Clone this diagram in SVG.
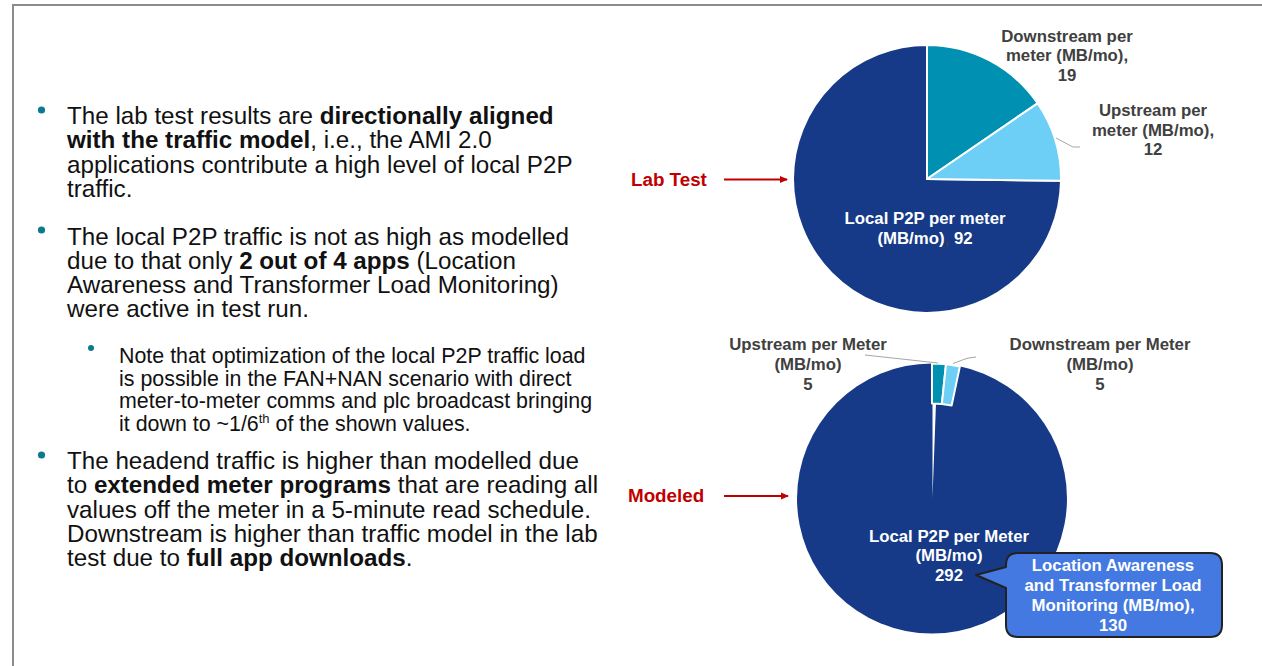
<svg xmlns="http://www.w3.org/2000/svg" width="1262" height="666" viewBox="0 0 1262 666">
<style>
.body{font-family:"Liberation Sans",Arial,sans-serif;font-size:24.2px;fill:#111}
.sub{font-family:"Liberation Sans",Arial,sans-serif;font-size:21.4px;fill:#111}
.b{font-weight:bold}
.lbl{font-family:"Liberation Sans",Arial,sans-serif;font-size:16.8px;font-weight:bold;fill:#404040;text-anchor:middle}
.wl{font-family:"Liberation Sans",Arial,sans-serif;font-size:16.8px;font-weight:bold;fill:#ffffff;text-anchor:middle}
.red{font-family:"Liberation Sans",Arial,sans-serif;font-size:18.8px;font-weight:bold;fill:#C00000}
.dot{fill:#0B7A8F}
.slice{stroke:#ffffff;stroke-width:2;stroke-linejoin:round}
.lead{fill:none;stroke:#A6A6A6;stroke-width:1}
.arr{stroke:#C00000;stroke-width:2;fill:none}
</style>
<defs>
<marker id="ah" markerWidth="8" markerHeight="8" refX="7" refY="4" orient="auto" markerUnits="userSpaceOnUse">
<path d="M0,0.5 L8,4 L0,7.5 Z" fill="#C00000"/>
</marker>
</defs>
<rect width="1262" height="666" fill="#ffffff"/>
<g id="frame">
<path d="M13,666 L13,5 L1262,5" fill="none" stroke="#8C8C8C" stroke-width="2"/>
</g>
<g id="bullets">
<circle class="dot" cx="41.5" cy="110" r="3.6"/>
<text class="body"><tspan x="67" y="124">The lab test results are <tspan class="b">directionally aligned</tspan></tspan><tspan x="67" y="148.3"><tspan class="b">with the traffic model</tspan>, i.e., the AMI 2.0</tspan><tspan x="67" y="172.6">applications contribute a high level of local P2P</tspan><tspan x="67" y="197">traffic.</tspan></text>
<circle class="dot" cx="41.5" cy="230" r="3.6"/>
<text class="body"><tspan x="67" y="244.5">The local P2P traffic is not as high as modelled</tspan><tspan x="67" y="268.8">due to that only <tspan class="b">2 out of 4 apps</tspan> (Location</tspan><tspan x="67" y="293">Awareness and Transformer Load Monitoring)</tspan><tspan x="67" y="317.4">were active in test run.</tspan></text>
<circle class="dot" cx="91" cy="348" r="3"/>
<text class="sub"><tspan x="119" y="363">Note that optimization of the local P2P traffic load</tspan><tspan x="119" y="385.5">is possible in the FAN+NAN scenario with direct</tspan><tspan x="119" y="408">meter-to-meter comms and plc broadcast bringing</tspan><tspan x="119" y="430.5">it down to ~1/6<tspan font-size="13" dy="-8">th</tspan><tspan dy="8"> of the shown values.</tspan></tspan></text>
<circle class="dot" cx="41.5" cy="455" r="3.6"/>
<text class="body"><tspan x="67" y="469">The headend traffic is higher than modelled due</tspan><tspan x="67" y="493.3">to <tspan class="b">extended meter programs</tspan> that are reading all</tspan><tspan x="67" y="517.6">values off the meter in a 5-minute read schedule.</tspan><tspan x="67" y="542">Downstream is higher than traffic model in the lab</tspan><tspan x="67" y="566.3">test due to <tspan class="b">full app downloads</tspan>.</tspan></text>
</g>
<g id="pie-lab">
<path class="slice" fill="#163A87" d="M927,179 L1061,180.7 A134,134 0 1 1 927,45 Z"/>
<path class="slice" fill="#0090B2" d="M927,179 L927,45 A134,134 0 0 1 1037.6,103.3 Z"/>
<path class="slice" fill="#6ECFF6" d="M927,179 L1037.6,103.3 A134,134 0 0 1 1061,180.7 Z"/>
</g>
<g id="pie-modeled">
<circle cx="932" cy="498.5" r="135" fill="#163A87"/>
<path class="slice" fill="#0090B2" d="M932,403.5 L932,363.5 A135,135 0 0 1 946,364.2 L941.9,404 Z"/>
<path class="slice" fill="#6ECFF6" d="M941.9,404 L946,364.2 A135,135 0 0 1 959.9,366.4 L951.6,405.6 Z"/>
<path d="M932.5,498 L932.5,403 L936,403 Z" fill="#ffffff"/>
</g>
<g id="labels-lab">
<text class="lbl"><tspan x="1067" y="41.5">Downstream per</tspan><tspan x="1067" y="61">meter (MB/mo),</tspan><tspan x="1067" y="80.5">19</tspan></text>
<text class="lbl"><tspan x="1153" y="116">Upstream per</tspan><tspan x="1153" y="135.5">meter (MB/mo),</tspan><tspan x="1153" y="155">12</tspan></text>
<text class="wl"><tspan x="925" y="224">Local P2P per meter</tspan><tspan x="925" y="243.5">(MB/mo)<tspan fill="#404040">,</tspan> 92</tspan></text>
</g>
<g id="labels-modeled">
<text class="lbl"><tspan x="808" y="349.5">Upstream per Meter</tspan><tspan x="808" y="369.5">(MB/mo)</tspan><tspan x="808" y="389.5">5</tspan></text>
<text class="lbl"><tspan x="1100" y="349.5">Downstream per Meter</tspan><tspan x="1100" y="369.5">(MB/mo)</tspan><tspan x="1100" y="389.5">5</tspan></text>
<text class="wl"><tspan x="949" y="541.5">Local P2P per Meter</tspan><tspan x="949" y="561">(MB/mo)</tspan><tspan x="949" y="580.5">292</tspan></text>
</g>
<g id="callout">
<path d="M1018,553 L1210,553 Q1222,553 1222,565 L1222,625 Q1222,637 1210,637 L1018,637 Q1006,637 1006,625 L1006,588 L976,575 L1006,567 L1006,565 Q1006,553 1018,553 Z" fill="#4479E1" stroke="#222222" stroke-width="2" stroke-linejoin="round"/>
<text class="wl"><tspan x="1113" y="571">Location Awareness</tspan><tspan x="1113" y="591">and Transformer Load</tspan><tspan x="1113" y="611">Monitoring (MB/mo),</tspan><tspan x="1113" y="631">130</tspan></text>
</g>
<g id="side-labels">
<text class="red" x="631" y="186">Lab Test</text>
<text class="red" x="628" y="502">Modeled</text>
</g>
<g id="connectors">
<line class="arr" x1="724" y1="179.5" x2="787" y2="179.5" marker-end="url(#ah)"/>
<line class="arr" x1="724" y1="496" x2="788" y2="496" marker-end="url(#ah)"/>
<polyline class="lead" points="1056,138 1073,147 1080,147"/>
<polyline class="lead" points="865,355 938,363"/>
<polyline class="lead" points="953,363.5 967,358.3 976,357"/>
</g>
</svg>
